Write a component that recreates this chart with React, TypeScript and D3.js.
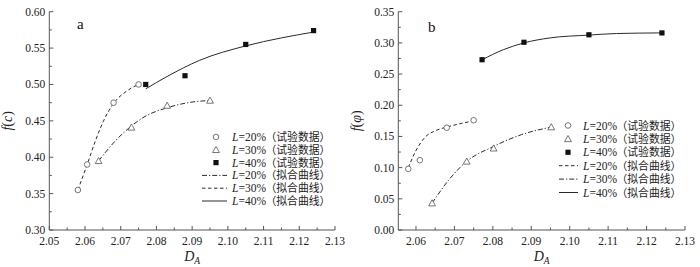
import React from "react";
import * as d3 from "d3";

// ---- data ----
const xTicksA = [2.05, 2.06, 2.07, 2.08, 2.09, 2.1, 2.11, 2.12, 2.13];
const xTicksB = [2.06, 2.07, 2.08, 2.09, 2.1, 2.11, 2.12, 2.13];
const yTicksA = [0.3, 0.35, 0.4, 0.45, 0.5, 0.55, 0.6];
const yTicksB = [0.0, 0.05, 0.1, 0.15, 0.2, 0.25, 0.3, 0.35];

// panel a : f(c)
const a20Test: [number, number][] = [[2.058, 0.355], [2.0606, 0.39], [2.068, 0.475], [2.075, 0.5]];
const a30Test: [number, number][] = [[2.0638, 0.395], [2.073, 0.441], [2.083, 0.471], [2.095, 0.478]];
const a40Test: [number, number][] = [[2.077, 0.5], [2.088, 0.512], [2.105, 0.555], [2.124, 0.574]];
const a20Fit: [number, number][] = [[2.058, 0.355], [2.0606, 0.39], [2.0628, 0.421], [2.0651, 0.449], [2.068, 0.474], [2.0717, 0.491], [2.075, 0.5]];
const a30Fit: [number, number][] = [[2.0638, 0.395], [2.0684, 0.422], [2.073, 0.443], [2.0768, 0.456], [2.083, 0.468], [2.0889, 0.475], [2.095, 0.478]];
const a40Fit: [number, number][] = [[2.077, 0.494], [2.083, 0.511], [2.092, 0.533], [2.105, 0.553], [2.115, 0.564], [2.124, 0.572]];

// panel b : f(φ)
const b20Test: [number, number][] = [[2.058, 0.098], [2.061, 0.112], [2.068, 0.164], [2.075, 0.176]];
const b30Test: [number, number][] = [[2.0642, 0.043], [2.0732, 0.11], [2.0802, 0.131], [2.0952, 0.165]];
const b40Test: [number, number][] = [[2.0772, 0.273], [2.0881, 0.301], [2.105, 0.313], [2.124, 0.316]];
const b20Fit: [number, number][] = [[2.058, 0.1], [2.0598, 0.125], [2.0624, 0.149], [2.065, 0.159], [2.068, 0.165], [2.0719, 0.171], [2.075, 0.175]];
const b30Fit: [number, number][] = [[2.0642, 0.043], [2.0685, 0.08], [2.0732, 0.11], [2.0802, 0.134], [2.0875, 0.153], [2.0952, 0.165]];
const b40Fit: [number, number][] = [[2.0772, 0.273], [2.0827, 0.289], [2.0881, 0.3], [2.0949, 0.308], [2.105, 0.3125], [2.1122, 0.315], [2.124, 0.316]];

const legendPct = ["20%", "30%", "40%", "20%", "30%", "40%"];
const legendTestTxt = "（试验数据）";
const legendFitTxt = "（拟合曲线）";

type Style = "dash" | "dashdot" | "solid";
const dashOf = (s: Style) => (s === "dash" ? "3.5,2.5" : s === "dashdot" ? "5,2,1.2,2" : undefined);

const LINE = "#2a2a2a";
const AX = "#555";
const SERIF = "'Liberation Serif', 'Times New Roman', serif";
const CJK = "'Liberation Serif', 'Noto Sans CJK SC', sans-serif";

function Marker({ kind, x, y }: { kind: number; x: number; y: number }) {
  if (kind === 0) return <circle cx={x} cy={y} r={2.8} fill="white" stroke="#666" strokeWidth={0.9} />;
  if (kind === 1) {
    const s = 3.4;
    return <path d={`M${x},${y - s}L${x + s},${y + s * 0.8}L${x - s},${y + s * 0.8}Z`} fill="white" stroke="#666" strokeWidth={0.9} />;
  }
  return <rect x={x - 2.6} y={y - 2.6} width={5.2} height={5.2} fill="#111" />;
}

interface PanelProps {
  xDomain: [number, number];
  xRange: [number, number];
  yDomain: [number, number];
  yRange: [number, number];
  xTicks: number[];
  yTicks: number[];
  tests: [number, number][][];
  fits: [number, number][][];
  fitStyles: Style[];
  legendStyles: Style[];
  legend: { mx: number; lx0: number; lx1: number; tx: number; y0: number; dy: number };
  label: string;
  labelPos: [number, number];
  yLabelSym: string;
}

function Panel(p: PanelProps) {
  const x = d3.scaleLinear().domain(p.xDomain).range(p.xRange);
  const y = d3.scaleLinear().domain(p.yDomain).range(p.yRange);
  const line = d3.line<[number, number]>().x((d) => x(d[0])).y((d) => y(d[1])).curve(d3.curveMonotoneX);
  const [x0, x1] = p.xRange;
  const [yb, yt] = p.yRange;
  const xStep = p.xTicks[1] - p.xTicks[0];
  const yStep = p.yTicks[1] - p.yTicks[0];
  const xMinor: number[] = [];
  for (let v = p.xTicks[0] - xStep / 2; v < p.xDomain[1]; v += xStep) if (v >= p.xDomain[0] - 1e-9) xMinor.push(v);
  const yMinor: number[] = [];
  for (let v = p.yTicks[0] + yStep / 2; v < p.yDomain[1]; v += yStep) yMinor.push(v);
  const fmtX = d3.format(".2f");
  const fmtY = d3.format(".2f");
  const yMid = (yb + yt) / 2;
  const xMid = (x0 + x1) / 2;
  return (
    <g>
      {/* axes */}
      <line x1={x0} x2={x1} y1={yb} y2={yb} stroke={AX} strokeWidth={1} />
      <line x1={x0} x2={x0} y1={yb} y2={yt} stroke={AX} strokeWidth={1} />
      {p.xTicks.map((t) => (
        <g key={"xt" + t}>
          <line x1={x(t)} x2={x(t)} y1={yb} y2={yb - 4} stroke={AX} />
          <text x={x(t)} y={yb + 15} textAnchor="middle" fontFamily={SERIF} fontSize={11.5} fill="#222">
            {fmtX(t)}
          </text>
        </g>
      ))}
      {xMinor.map((t) => (
        <line key={"xm" + t} x1={x(t)} x2={x(t)} y1={yb} y2={yb - 2.5} stroke={AX} />
      ))}
      {p.yTicks.map((t) => (
        <g key={"yt" + t}>
          <line x1={x0} x2={x0 + 4} y1={y(t)} y2={y(t)} stroke={AX} />
          <text x={x0 - 4} y={y(t) + 4} textAnchor="end" fontFamily={SERIF} fontSize={11.5} fill="#222">
            {fmtY(t)}
          </text>
        </g>
      ))}
      {yMinor.map((t) => (
        <line key={"ym" + t} x1={x0} x2={x0 + 2.5} y1={y(t)} y2={y(t)} stroke={AX} />
      ))}
      {/* axis labels */}
      <text transform={`translate(${x0 - 37},${yMid}) rotate(-90)`} textAnchor="middle" fontFamily={SERIF} fontSize={14} fill="#222">
        <tspan fontStyle="italic">f</tspan>
        <tspan>(</tspan>
        <tspan fontStyle="italic">{p.yLabelSym}</tspan>
        <tspan>)</tspan>
      </text>
      <text x={xMid} y={yb + 31} textAnchor="middle" fontFamily={SERIF} fontSize={14} fill="#222">
        <tspan fontStyle="italic">D</tspan>
        <tspan fontStyle="italic" fontSize={9.5} dy={3}>A</tspan>
      </text>
      <text x={p.labelPos[0]} y={p.labelPos[1]} fontFamily={SERIF} fontSize={15} fill="#111">
        {p.label}
      </text>
      {/* fitted curves */}
      {p.fits.map((f, i) => (
        <path key={"f" + i} d={line(f) || ""} fill="none" stroke={LINE} strokeWidth={1} strokeDasharray={dashOf(p.fitStyles[i])} />
      ))}
      {/* test points */}
      {p.tests.map((s, i) =>
        s.map((d, j) => <Marker key={`m${i}-${j}`} kind={i} x={x(d[0])} y={y(d[1])} />)
      )}
      {/* legend */}
      {legendPct.map((pct, i) => {
        const ly = p.legend.y0 + i * p.legend.dy;
        return (
          <g key={"lg" + i}>
            {i < 3 ? (
              <Marker kind={i} x={p.legend.mx} y={ly} />
            ) : (
              <line x1={p.legend.lx0} x2={p.legend.lx1} y1={ly} y2={ly} stroke={LINE} strokeWidth={1} strokeDasharray={dashOf(p.legendStyles[i - 3])} />
            )}
            <text x={p.legend.tx} y={ly + 4} fontFamily={SERIF} fontSize={11.5} fill="#222">
              <tspan fontStyle="italic">L</tspan>={pct}
            </text>
            <text x={p.legend.tx + 33.5} y={ly + 4} fontFamily={CJK} fontSize={10.8} fill="#222">
              {i < 3 ? legendTestTxt : legendFitTxt}
            </text>
          </g>
        );
      })}
    </g>
  );
}

export default function App() {
  return (
    <svg width={700} height={267} style={{ position: "absolute", left: 0, top: 0, background: "white" }}>
      <rect width={700} height={267} fill="white" />
      <Panel
        xDomain={[2.05, 2.13]}
        xRange={[49.3, 335]}
        yDomain={[0.3, 0.6]}
        yRange={[230, 11.7]}
        xTicks={xTicksA}
        yTicks={yTicksA}
        tests={[a20Test, a30Test, a40Test]}
        fits={[a20Fit, a30Fit, a40Fit]}
        fitStyles={["dash", "dashdot", "solid"]}
        legendStyles={["dashdot", "dash", "solid"]}
        legend={{ mx: 216, lx0: 202, lx1: 227, tx: 232, y0: 137, dy: 12.8 }}
        label="a"
        labelPos={[77, 29]}
        yLabelSym="c"
      />
      <Panel
        xDomain={[2.0554, 2.13]}
        xRange={[398.3, 685]}
        yDomain={[0, 0.35]}
        yRange={[230, 11.7]}
        xTicks={xTicksB}
        yTicks={yTicksB}
        tests={[b20Test, b30Test, b40Test]}
        fits={[b20Fit, b30Fit, b40Fit]}
        fitStyles={["dash", "dashdot", "solid"]}
        legendStyles={["dash", "dashdot", "solid"]}
        legend={{ mx: 568, lx0: 559, lx1: 578, tx: 583, y0: 125.5, dy: 13.4 }}
        label="b"
        labelPos={[428, 32]}
        yLabelSym="φ"
      />
    </svg>
  );
}
